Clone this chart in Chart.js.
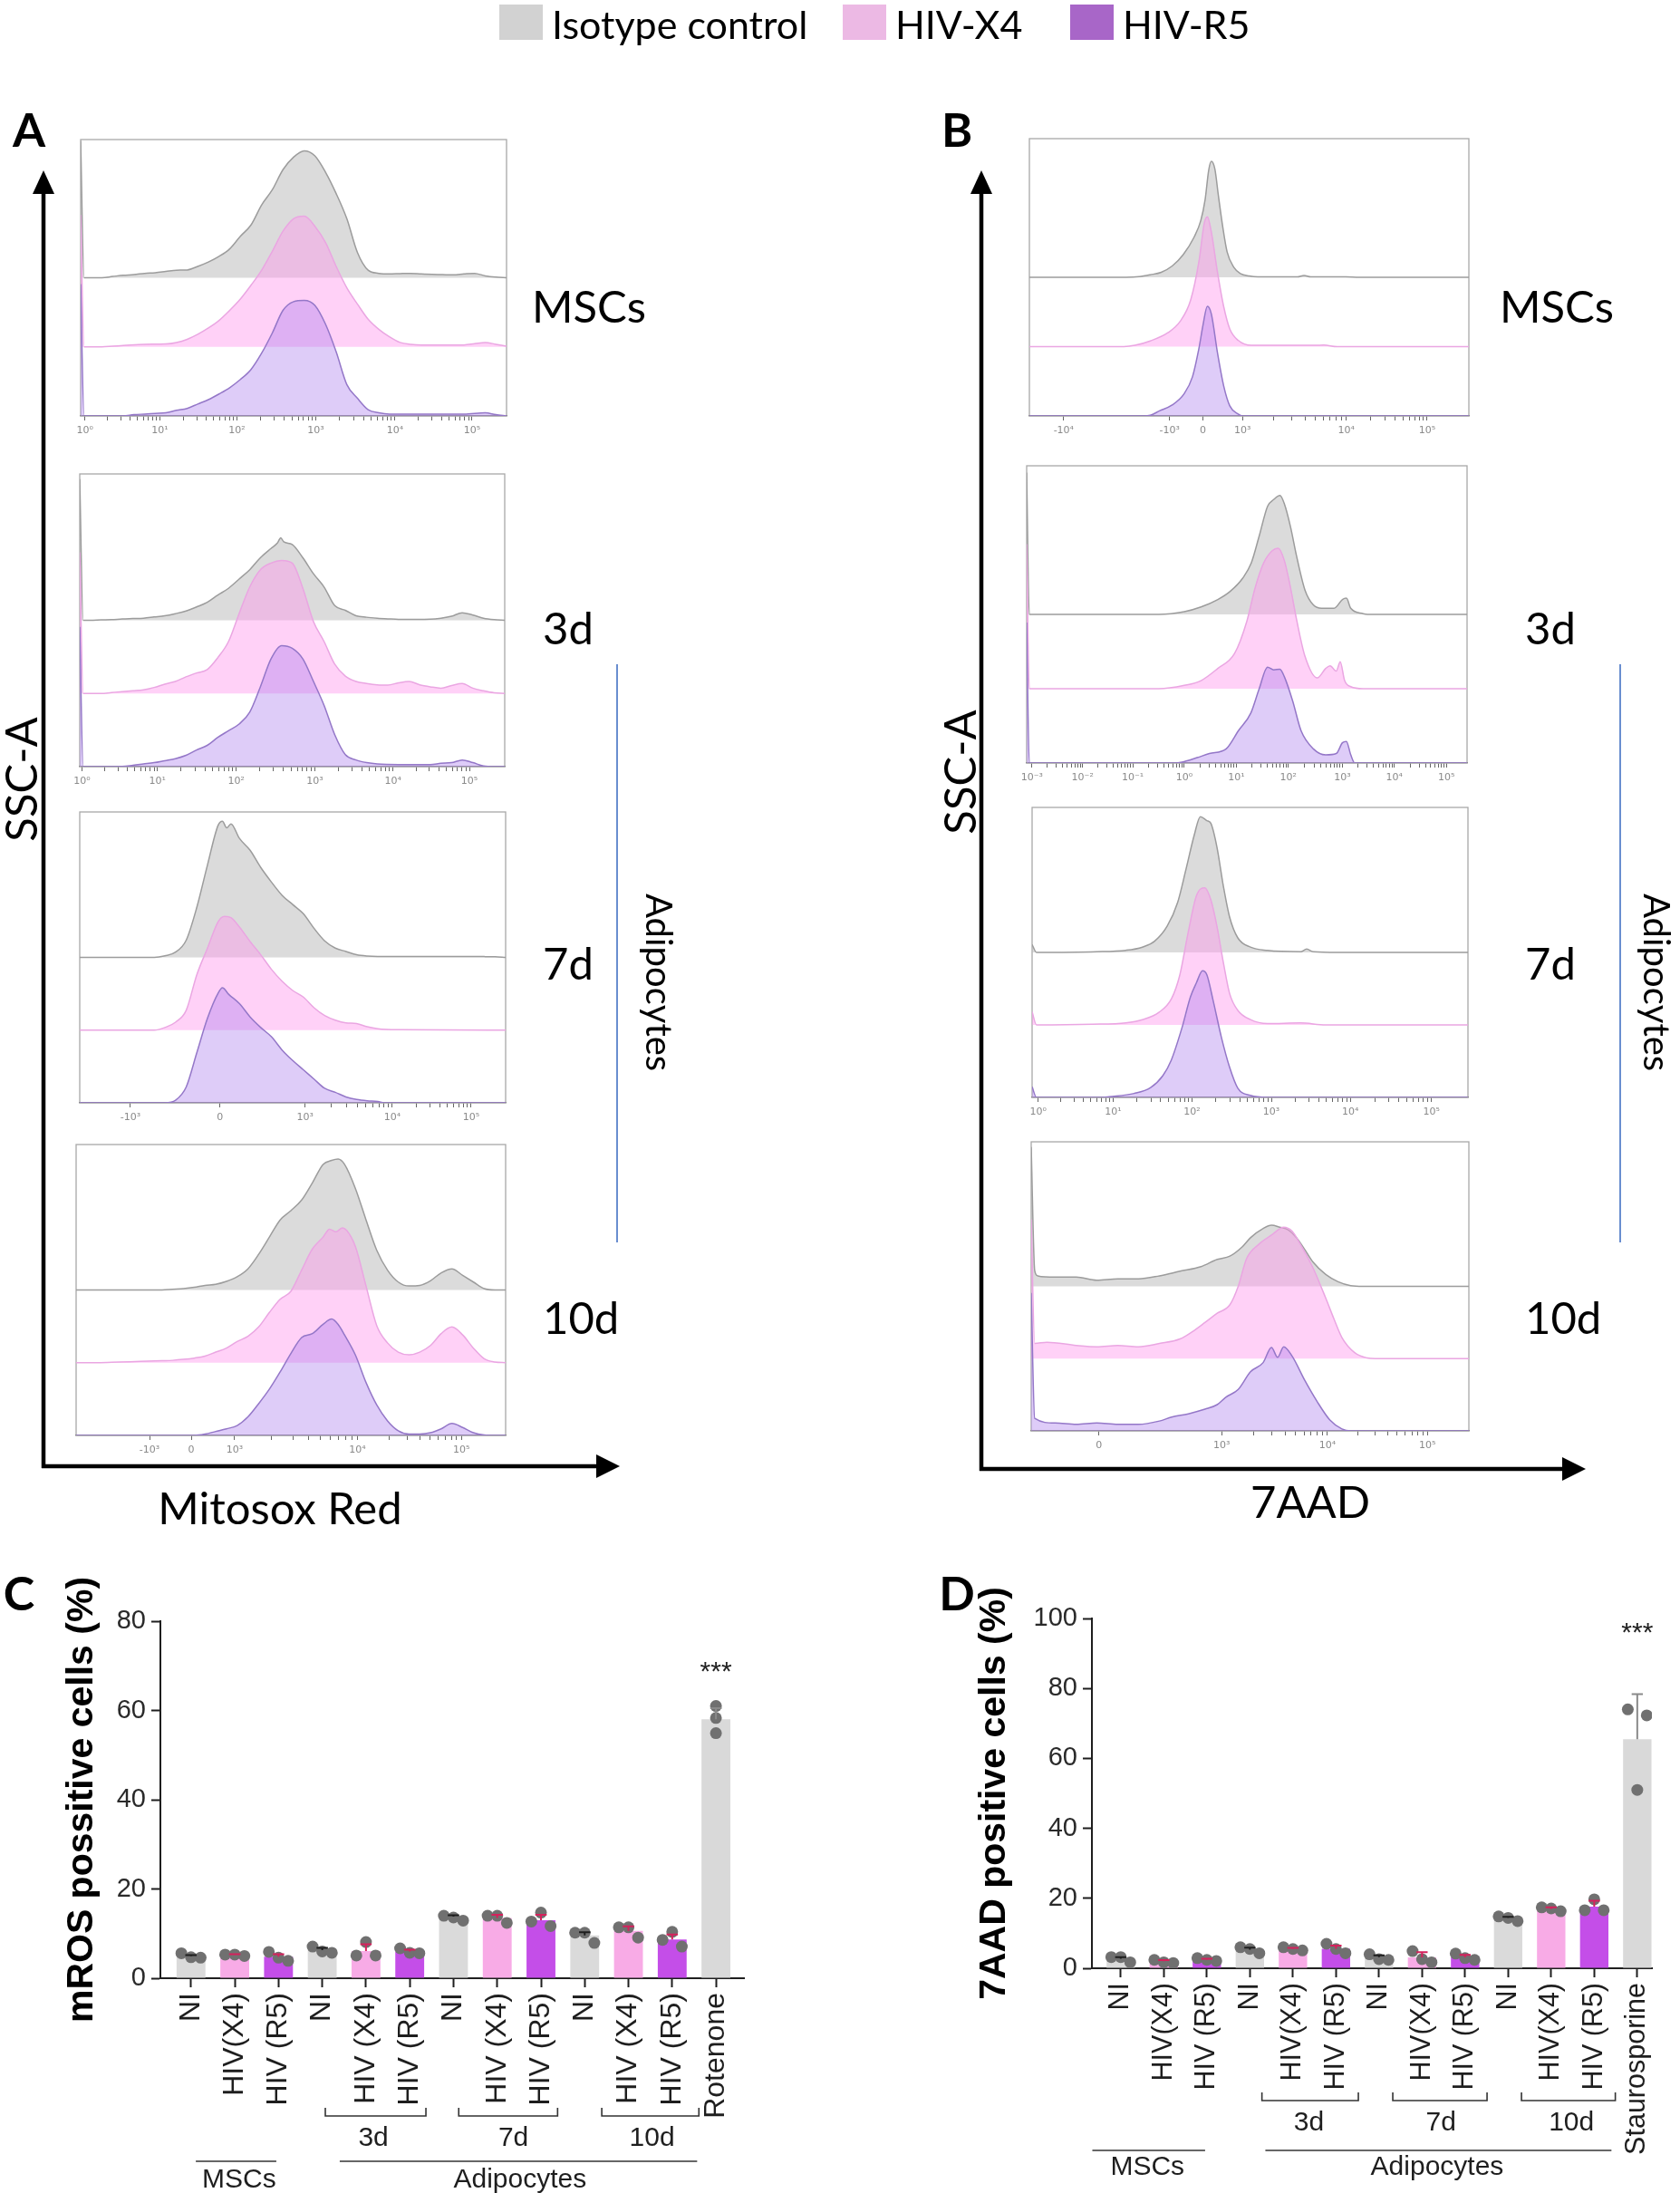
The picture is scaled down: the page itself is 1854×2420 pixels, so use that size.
<!DOCTYPE html>
<html>
<head>
<meta charset="utf-8">
<script src="https://cdn.jsdelivr.net/npm/chart.js@4.4.1/dist/chart.umd.min.js"></script>
<style>
  html, body { margin: 0; padding: 0; background: #fff; }
  #fig { position: relative; width: 1854px; height: 2420px; overflow: hidden; font-family: Lato, "Open Sans", sans-serif; color: #000; }
  #fig canvas { position: absolute; }
  #fig svg { position: absolute; left: 0; top: 0; }
  .txt { position: absolute; white-space: nowrap; line-height: 1; }
</style>
</head>
<body>
<div id="fig"></div>
<script>
// ---------- flow histograms: [channel (% of plot width), events (% of mode)] ----------
// A - Mitosox Red
const mitoMscIso = [[0,109],[0.8,0],[5,0],[7.5,1],[10,2],[12.5,2.5],[15,3.5],[17.5,4],[20,5],[22.5,6],[25,6.2],[27.5,9],[30,12.5],[32.5,17],[35,23],[37.5,33],[40,42],[42.5,58],[45,70],[47.5,86],[50,96],[52.5,101],[55,97],[57.5,84],[60,67],[62.5,47],[65,20],[67.5,6],[70,3.5],[72.5,3],[75,3.3],[77.5,3.5],[80,3],[85,2.5],[87.5,2.3],[90,3],[92.5,3.5],[95,1.5],[97.5,0.5],[100,0]];
const mitoMscX4 = [[0,105],[0.8,0],[5,0],[7.5,0.5],[10,1],[15,2],[20,2.3],[22.5,3.5],[25,6],[27.5,10],[30,15],[32.5,21],[35,29],[37.5,38],[40,49],[42.5,61],[45,76],[47.5,92],[50,102],[52.5,104],[55,96],[57.5,83],[60,64],[62.5,47],[65,34],[67.5,22],[70,14],[72.5,8],[75,3.5],[77.5,2],[80,1.5],[90,1.5],[92.5,2.5],[95,3.5],[97.5,2],[100,0.5]];
const mitoMscR5 = [[0,105],[0.8,0],[10,0],[12.5,1],[15,1.5],[17.5,2],[20,2.5],[22.5,4.5],[25,6],[27.5,9.5],[30,13],[32.5,17.5],[35,22.5],[37.5,29],[40,37],[42.5,50],[45,66],[47.5,84],[50,91],[52.5,92],[55,88],[57.5,73],[60,51],[62.5,25],[65,14],[67.5,5],[70,2.5],[72.5,1.5],[90,1.5],[95,2.5],[97.5,1],[100,0]];
const mito3dIso = [[0,106],[0.8,0],[2.5,0],[5,0.3],[7.5,0.5],[10,1],[12.5,1.3],[15,1.6],[17.5,2.5],[20,3.4],[22.5,5],[25,7],[27.5,10],[30,13.5],[32.5,19],[35,24],[37.5,31],[40,38],[42.5,47],[45,54],[46.5,58],[47.3,62],[48,59],[50,57],[52.5,47],[55,35],[57.5,25],[60,11],[62.5,7.5],[65,3.4],[67.5,2.3],[70,1.6],[72.5,1.1],[75,0.7],[82.5,0.9],[85,1.6],[87.5,3],[90,5.7],[92.5,3.9],[95,1.6],[97.5,0.5],[100,0]];
const mito3dX4 = [[0,106],[0.8,0],[5,0],[7.5,0.7],[10,1.4],[12.5,2],[15,2.7],[17.5,4.5],[20,7],[22.5,9],[25,12.5],[27.5,15.4],[30,18],[32.5,27],[35,39],[37.5,60],[40,80],[42.5,93],[45,98],[47.5,100],[50,98],[52.5,79],[55,54],[57.5,39],[60,22],[62.5,13],[65,9],[67.5,7.5],[70,6.5],[72.5,6.3],[75,8],[77.5,9],[80,6.5],[82.5,5],[85,4],[87.5,6],[90,7.5],[92.5,4],[95,2],[97.5,0.5],[100,0]];
const mito3dR5 = [[0,105],[0.8,0],[10,0.2],[12.5,1],[15,2],[17.5,3],[20,4.5],[22.5,6],[25,8.5],[27.5,12.5],[30,16],[32.5,22],[35,27],[37.5,32],[40,41],[42.5,60],[45,81],[47.5,91],[50,89],[52.5,81],[55,64],[57.5,46],[60,24],[62.5,9],[65,5],[67.5,3],[70,2],[75,1.6],[82.5,1.6],[85,2.5],[87.5,3],[90,5],[92.5,3],[95,0.5],[97.5,0],[100,0]];
const mito7dIso = [[0,0],[17.5,0],[20,1.2],[22.5,4],[25,13],[27.5,38],[30,70],[32.5,100],[33.5,103],[34.5,98],[35.5,101],[37.5,90],[40,81],[42.5,68],[45,57],[47.5,47],[50,40],[52.5,33],[55,22],[57.5,12.5],[60,7],[62.5,4.5],[65,2],[67.5,1],[70,0.7],[95,0.6],[97.5,0.5],[100,0]];
const mito7dX4 = [[0,0],[17.5,0],[20,2],[22.5,6],[25,15],[27.5,42],[30,62],[32.5,82],[34,86],[35.5,85],[37.5,78],[40,67],[42.5,57],[45,46],[47.5,37],[50,30],[52.5,25],[55,17],[57.5,11],[60,7.5],[62.5,5.5],[65,5],[67.5,2.5],[70,1],[75,0.3],[100,0]];
const mito7dR5 = [[0,0],[20,0],[22.5,2],[25,12],[27.5,38],[30,64],[32.5,83],[33.5,87],[35,82],[37.5,75],[40,65],[42.5,57],[45,50],[47.5,40],[50,32],[52.5,25],[55,18],[57.5,11],[60,8],[62.5,4.5],[65,2.5],[67.5,1.5],[70,1],[71.5,0],[100,0]];
const mito10dIso = [[0,0],[20,0],[22.5,0.5],[25,1],[27.5,2],[30,3.5],[32.5,4.3],[35,6.5],[37.5,10],[40,16],[42.5,27],[45,40],[47.5,53],[50,60],[52.5,68],[55,81],[57.5,95],[59.5,98],[61,99],[62.5,95],[65,77],[67.5,53],[70,30],[72.5,15],[75,6],[77.5,3],[80,3.5],[82.5,7],[85,13],[87.5,16],[90,11],[92.5,6],[95,1],[97.5,0],[100,0]];
const mito10dX4 = [[0,0],[5,0],[10,0.5],[15,1],[20,1.5],[22.5,1.8],[25,2.5],[27.5,3.5],[30,5],[32.5,8],[35,11],[37.5,16],[40,20],[42.5,27],[45,38],[47.5,48],[50,54],[52.5,70],[55,86],[57.5,95],[59,101],[60.5,99],[62,102],[63,100],[65,88],[67.5,58],[70,28],[72.5,15],[75,8],[77.5,6],[80,8],[82.5,13],[85,22],[87.5,27],[90,21],[92.5,11],[95,3],[97.5,0.5],[100,0]];
const mito10dR5 = [[0,0],[27.5,0],[30,1],[32.5,3],[35,5],[37.5,7.5],[40,14],[42.5,24],[45,35],[47.5,48],[50,62],[52.5,74],[55,77],[57.5,84],[59.5,88],[61,84],[62.5,76],[65,61],[67.5,40],[70,23],[72.5,11],[75,3.5],[77.5,1],[80,1],[82.5,2],[85,5],[87.5,9],[90,6],[92.5,2],[95,0.3],[97.5,0],[100,0]];

// B - 7AAD
const aadMscIso = [[0,0],[22,0],[25,0.5],[27.5,2],[30,4],[32.5,9],[35,18],[37.5,32],[39,45],[40,62],[40.8,85],[41.4,92],[42.2,86],[43,65],[44,40],[45,20],[46.5,8],[48,3],[50,1],[52,0.3],[61,0.3],[62.5,1.5],[64,0.3],[72,0.3],[75,0],[100,0]];
const aadMscX4 = [[0,0],[21.5,0],[24,1],[27.5,4.5],[31.5,11],[34.3,20],[36.7,37],[38.6,68],[39.8,98],[40.5,103],[41.4,91],[42.8,59],[44.2,32],[45.6,14],[47.5,5],[50.5,1],[65,1],[67,1.2],[70,0],[100,0]];
const aadMscR5 = [[0,0],[26,0],[27.5,0.5],[29.6,4],[32.4,8.5],[35.2,17.5],[37.1,31],[38.6,54],[39.5,72],[40.5,87],[41.4,81],[42.8,50],[44.2,24],[45.6,8],[47.5,1.5],[48.5,0],[100,0]];
const aad3dIso = [[0,105],[0.6,0],[30,0],[35.8,2],[39.6,5.5],[43.4,11],[46.2,17],[49.1,27],[51,38],[52.8,58],[54.7,80],[56.1,85],[57.5,88],[58.5,82],[59.9,65],[61.3,43],[63.2,18],[65.1,7],[67,4.5],[69.8,4.5],[71.7,11],[72.6,12],[73.6,4.5],[76.4,0.5],[77.4,0],[100,0]];
const aad3dX4 = [[0,107],[0.6,0],[30,0],[35.8,2.5],[39.6,6],[43.4,15],[47.2,26],[50,50],[51.9,75],[53.8,93],[55.7,102],[57.1,104],[58.5,95],[59.9,75],[61.3,51],[63.2,24],[66,8],[67.9,15],[68.9,17],[70.3,13],[71.2,20],[72.2,6],[73.6,1.5],[76.4,0],[100,0]];
const aad3dR5 = [[0,104],[0.6,0],[34,0],[35,0.5],[38.7,4],[41.5,7],[45.3,10.5],[48.1,24],[50.9,37],[52.8,55],[54.7,71],[56.1,69],[57.5,69.5],[58.5,64],[60.4,46],[62.3,24],[65.1,10.5],[67.9,6],[70.3,7],[71.7,15],[72.6,16],[73.6,6],[74.5,0],[100,0]];
const aad7dIso = [[0,6],[1,0],[14.8,0.5],[21.5,1.6],[25.3,4],[28.1,8.5],[31,20],[33.4,38],[35.3,63],[37.2,89],[38.6,103],[40.1,100],[41,98],[42.4,80],[43.9,50],[45.3,27],[47.2,11],[50.1,4],[54,1.5],[61.6,0.5],[63,2.5],[64.5,0.5],[70,0],[100,0]];
const aad7dX4 = [[0,10],[1,0],[13.8,0.5],[21.5,1.6],[25.3,4],[29.1,9.5],[32,20],[33.9,38],[35.8,70],[37.7,98],[39.6,104],[41,95],[42.4,75],[43.9,47],[45.3,24],[47.2,11],[50.1,4],[54,1],[61.6,1.5],[67.3,0],[100,0]];
const aad7dR5 = [[0,8],[1,0],[16.2,0],[17.7,0.5],[23.4,3],[27.2,7.5],[30,16.5],[31.9,28],[34.4,53],[36.3,76],[37.7,87],[39.1,96],[40.1,93],[41.5,74],[43.4,46],[45.3,23],[47.2,7],[50.1,1.5],[54,0],[100,0]];
const aad10dIso = [[0,106],[0.8,12],[1.5,8],[5.5,7],[10.3,7],[15,4.6],[19.8,5.7],[24.5,5.7],[29.3,8],[34,11.5],[38.8,15],[42.5,20.5],[45.4,23],[48.2,30],[50.1,37],[53,44],[54.9,46.5],[56.8,45],[58.7,43],[60.6,37],[62.5,28],[64.4,18.4],[67.3,9],[70.1,3.5],[73,0.5],[75.8,0],[100,0]];
const aad10dX4 = [[0,106],[0.8,11.5],[3.6,12.5],[10.3,10],[15,9],[19.8,10],[24.5,9],[29.3,11.5],[34,15],[36.8,20.5],[39.7,27.5],[42.5,34.5],[45.4,41],[47.3,55],[49.2,76],[52,87],[54.9,94],[57.7,100],[59.6,97],[61.5,87],[64.4,69],[67.3,46],[69.2,30],[71,16],[73.9,4.6],[76.8,0.5],[78.6,0],[100,0]];
const aad10dR5 = [[0,105],[0.8,9.5],[5.5,6],[10.3,5],[15,6],[19.8,5],[24.5,5],[29.3,7.5],[32.1,10.5],[35.9,13],[39.7,16.5],[42.5,20],[44.4,25.5],[47.3,31.5],[50.1,45],[53,52],[54.9,63.5],[56.3,56],[57.7,64],[59.6,57],[62.5,38.5],[65.3,22.5],[68.2,8.5],[71,1.5],[73,0],[100,0]];

// axis ticks of each histogram (channel position, label)
const logTickText = ["10⁰", "10¹", "10²", "10³", "10⁴", "10⁵"];
const biexTickText = ["-10³", "0", "10³", "10⁴", "10⁵"];
const mitoMscTicks = [1, 18.6, 36.7, 55.2, 73.8, 91.9];
const mito3dTicks = [0.5, 18.3, 36.8, 55.3, 73.7, 91.7];
const mito7dTicks = [11.9, 32.9, 52.9, 73.4, 91.9];
const mito10dTicks = [17.1, 26.8, 36.9, 65.5, 89.7];
const aadMscTicks = [7.8, 31.9, 39.5, 48.5, 72.1, 90.5];
const aadMscTickText = ["-10⁴", "-10³", "0", "10³", "10⁴", "10⁵"];
const aad3dTicks = [1.2, 12.7, 24.1, 35.8, 47.6, 59.4, 71.7, 83.5, 95.3];
const aad3dTickText = ["10⁻³", "10⁻²", "10⁻¹", "10⁰", "10¹", "10²", "10³", "10⁴", "10⁵"];
const aad7dTicks = [1.4, 18.6, 36.7, 54.9, 73, 91.6];
const aad10dTicks = [15.5, 43.5, 67.7, 90.5];
const aad10dTickText = ["0", "10³", "10⁴", "10⁵"];

// ---------- bar charts ----------
const groupKind = ["NI", "X4", "R5", "NI", "X4", "R5", "NI", "X4", "R5", "NI", "X4", "R5", "ctrl"];
const mrosLabels = ["NI", "HIV(X4)", "HIV (R5)", "NI", "HIV (X4)", "HIV (R5)", "NI", "HIV (X4)", "HIV (R5)", "NI", "HIV (X4)", "HIV (R5)", "Rotenone"];
const mrosMean = [4.9, 5.2, 4.8, 6.3, 6.1, 6.0, 13.8, 13.5, 13.0, 9.6, 10.6, 8.7, 58.0];
const mrosSd = [0.3, 0.2, 0.6, 0.5, 1.5, 0.4, 0.3, 0.7, 1.2, 0.7, 1.0, 1.1, 2.5];
const mrosReps = [[5.6, 4.7, 4.6], [5.3, 5.3, 5.0], [5.9, 4.6, 3.9], [7.1, 6.0, 5.7], [5.1, 8.1, 5.1], [6.7, 5.7, 5.6], [14.0, 13.6, 12.9], [14.0, 14.0, 12.4], [12.7, 14.7, 11.7], [10.2, 10.2, 7.9], [11.4, 11.4, 9.1], [8.6, 10.4, 7.1], [61.0, 58.3, 54.9]];
const aadLabels = ["NI", "HIV(X4)", "HIV (R5)", "NI", "HIV(X4)", "HIV (R5)", "NI", "HIV(X4)", "HIV (R5)", "NI", "HIV(X4)", "HIV (R5)", "Staurosporine"];
const aadMean = [2.7, 2.0, 2.4, 5.3, 5.5, 5.6, 3.2, 3.1, 3.2, 14.4, 17.0, 17.6, 65.5];
const aadSd = [0.5, 0.3, 0.3, 0.6, 0.3, 0.9, 0.5, 1.5, 0.6, 0.3, 0.4, 1.7, 12.9];
const aadReps = [[3.2, 3.2, 1.7], [2.4, 1.7, 1.5], [2.9, 2.4, 2.1], [6.0, 5.5, 4.3], [6.0, 5.5, 5.1], [7.0, 5.5, 4.3], [4.0, 2.6, 2.4], [4.9, 2.6, 1.7], [4.2, 2.9, 2.4], [14.8, 14.4, 13.5], [17.4, 17.1, 16.3], [16.6, 19.7, 16.6], [74.0, 51.0, 72.3]];

const fig = document.getElementById("fig");
Chart.defaults.animation = false;
Chart.defaults.events = [];

// html text helper
function addText(txt, x, y, style, transform) {
  const el = document.createElement("div");
  el.className = "txt";
  el.textContent = txt;
  Object.assign(el.style, style || {});
  el.style.left = x + "px";
  el.style.top = y + "px";
  el.style.transform = transform || "translate(-50%,-50%)";
  fig.appendChild(el);
  return el;
}

function addCanvas(x, y, w, h) {
  const cv = document.createElement("canvas");
  cv.width = w;
  cv.height = h;
  cv.style.left = x + "px";
  cv.style.top = y + "px";
  fig.appendChild(cv);
  return cv;
}

// ---------- histograms ----------
const histStyle = [
  { line: "#9477c8", fill: "rgba(172,128,238,0.40)" }, // HIV-R5, drawn on top
  { line: "#eaa6e2", fill: "rgba(255,150,236,0.44)" }, // HIV-X4
  { line: "#9c9c9c", fill: "rgba(186,186,186,0.52)" }, // isotype
];
// each layer sits a quarter of the frame higher than the one below it
const layerAxes = {
  y0: { type: "linear", axis: "y", display: false, min: 0, max: 220 },
  y1: { type: "linear", axis: "y", display: false, min: -55, max: 165 },
  y2: { type: "linear", axis: "y", display: false, min: -110, max: 110 },
};

const frame = {
  id: "frame",
  beforeDatasetsDraw(chart) {
    const { ctx, chartArea: a } = chart;
    ctx.save();
    ctx.strokeStyle = "#a8a8a8";
    ctx.lineWidth = 1.3;
    ctx.strokeRect(a.left, a.top, a.right - a.left, a.bottom - a.top);
    ctx.restore();
  },
};

function buildTicks(pos, text) {
  const ticks = [];
  pos.forEach((p, i) => {
    ticks.push({ value: p, txt: text[i], major: true });
    const next = pos[i + 1];
    // log minor ticks inside positive decades
    if (next !== undefined && text[i].startsWith("10") && text[i + 1].startsWith("10")) {
      for (let k = 2; k < 10; k++) ticks.push({ value: p + Math.log10(k) * (next - p), txt: "" });
    }
  });
  return ticks.sort((a, b) => a.value - b.value);
}

function histogram(box, curves, tickPos, tickText) {
  const [bx, by, bw, bh] = box;
  const pad = 16, axisH = 34;
  const cv = addCanvas(bx - pad, by - 6, bw + pad * 2, bh + 6 + axisH);
  new Chart(cv, {
    type: "line",
    data: {
      datasets: curves.map((c, k) => ({
        data: c.map(([x, y]) => ({ x, y })),
        yAxisID: "y" + k,
        borderColor: histStyle[k].line,
        backgroundColor: histStyle[k].fill,
        borderWidth: 1.5,
        fill: "origin",
        pointRadius: 0,
        cubicInterpolationMode: "monotone",
      })),
    },
    options: {
      responsive: false,
      layout: { padding: { left: pad, right: pad, top: 6, bottom: 0 } },
      plugins: { legend: { display: false }, tooltip: { enabled: false } },
      scales: Object.assign({
        x: {
          type: "linear", min: 0, max: 100,
          afterFit: (s) => { s.height = axisH; },
          afterBuildTicks: (s) => { s.ticks = buildTicks(tickPos, tickText); },
          border: { display: true, color: "#555", width: 1.3 },
          grid: { drawOnChartArea: false, tickLength: 5, tickColor: "#666", tickWidth: 1 },
          ticks: {
            autoSkip: false, maxRotation: 0, padding: 5, color: "#8a8a8a",
            font: { family: "DejaVu Sans", size: 11 },
            callback: (v, i, ts) => ts[i].txt,
          },
        },
      }, layerAxes),
    },
    plugins: [frame],
  });
}

histogram([89, 154, 470, 305], [mitoMscR5, mitoMscX4, mitoMscIso], mitoMscTicks, logTickText);
histogram([88, 523, 469, 323], [mito3dR5, mito3dX4, mito3dIso], mito3dTicks, logTickText);
histogram([88, 896, 470, 321], [mito7dR5, mito7dX4, mito7dIso], mito7dTicks, biexTickText);
histogram([84, 1263, 474, 321], [mito10dR5, mito10dX4, mito10dIso], mito10dTicks, biexTickText);
histogram([1136, 153, 485, 306], [aadMscR5, aadMscX4, aadMscIso], aadMscTicks, aadMscTickText);
histogram([1133, 514, 486, 328], [aad3dR5, aad3dX4, aad3dIso], aad3dTicks, aad3dTickText);
histogram([1139, 891, 481, 320], [aad7dR5, aad7dX4, aad7dIso], aad7dTicks, logTickText);
histogram([1138, 1260, 483, 319], [aad10dR5, aad10dX4, aad10dIso], aad10dTicks, aad10dTickText);

// ---------- bar charts ----------
const barColor = { NI: "#dadada", X4: "#f8abe6", R5: "#c44ee8", ctrl: "#d9d9d9" };
const errColor = { NI: "#1e1e1e", X4: "#d5215c", R5: "#d5215c", ctrl: "#8a8a8a" };

// spread replicate dots sideways only when they would overlap
function dotPoints(reps, overlap) {
  const pts = [];
  reps.forEach((vals, i) => {
    let crowded = false;
    vals.forEach((a, j) => vals.forEach((b, k) => { if (j < k && Math.abs(a - b) < overlap) crowded = true; }));
    vals.forEach((v, j) => pts.push({ x: i + (crowded ? (j - 1) * 0.22 : 0), y: v }));
  });
  return pts;
}

const errorBars = {
  id: "errorBars",
  afterDatasetsDraw(chart, args, o) {
    const { ctx } = chart;
    const x = chart.scales.x, y = chart.scales.y;
    const cap = (x.getPixelForValue(1) - x.getPixelForValue(0)) * 0.13;
    ctx.save();
    ctx.lineWidth = 2;
    chart.getDatasetMeta(1).data.forEach((bar, i) => {
      const top = y.getPixelForValue(o.mean[i] + o.sd[i]);
      ctx.strokeStyle = errColor[groupKind[i]];
      ctx.beginPath();
      ctx.moveTo(bar.x, bar.y);
      ctx.lineTo(bar.x, top);
      ctx.moveTo(bar.x - cap, top);
      ctx.lineTo(bar.x + cap, top);
      ctx.stroke();
    });
    // significance stars over the positive control
    ctx.fillStyle = "#222";
    ctx.font = "30px 'Liberation Sans', Arial";
    ctx.textAlign = "center";
    ctx.textBaseline = "middle";
    ctx.fillText("***", x.getPixelForValue(12), y.getPixelForValue(o.starAt));
    ctx.restore();
  },
};

// brackets and group names under the category labels
const groupNotes = {
  id: "groupNotes",
  afterDraw(chart, args, o) {
    const { ctx } = chart;
    const x = chart.scales.x;
    ctx.save();
    ctx.strokeStyle = "#333";
    ctx.lineWidth = 1.6;
    ctx.fillStyle = "#1e1e1e";
    ctx.font = "30px 'Liberation Sans', Arial";
    ctx.textAlign = "center";
    ctx.textBaseline = "middle";
    o.brackets.forEach((b) => {
      const x0 = x.getPixelForValue(b.from), x1 = x.getPixelForValue(b.to);
      ctx.beginPath();
      ctx.moveTo(x0, o.bracketY - 9);
      ctx.lineTo(x0, o.bracketY);
      ctx.lineTo(x1, o.bracketY);
      ctx.lineTo(x1, o.bracketY - 9);
      ctx.stroke();
      ctx.fillText(b.text, x.getPixelForValue(b.at), o.bracketTextY);
    });
    o.groups.forEach((g) => {
      ctx.beginPath();
      ctx.moveTo(x.getPixelForValue(g.from), o.lineY);
      ctx.lineTo(x.getPixelForValue(g.to), o.lineY);
      ctx.stroke();
      ctx.fillText(g.text, x.getPixelForValue(g.at), o.groupTextY);
    });
    ctx.restore();
  },
};

function barPanel(cv, L, labels, mean, sd, reps, cfg) {
  new Chart(cv, {
    type: "bar",
    data: {
      datasets: [
        {
          type: "scatter",
          data: dotPoints(reps, cfg.overlap),
          pointRadius: 6.5,
          pointBackgroundColor: "#707070",
          pointBorderWidth: 0,
        },
        {
          data: mean.map((v, i) => ({ x: i, y: v })),
          backgroundColor: groupKind.map((k) => barColor[k]),
          borderWidth: 0,
          barPercentage: 0.66,
          categoryPercentage: 1,
        },
      ],
    },
    options: {
      responsive: false,
      layout: { padding: { left: 0, top: L.top, right: L.right, bottom: 0 } },
      plugins: {
        legend: { display: false }, tooltip: { enabled: false },
        errorBars: { mean, sd, starAt: cfg.starAt },
        groupNotes: cfg.notes,
      },
      scales: {
        x: {
          type: "linear", min: cfg.xMin, max: cfg.xMax, offset: false,
          afterFit: (s) => { s.height = L.xHeight; },
          afterBuildTicks: (s) => { s.ticks = labels.map((_, i) => ({ value: i })); },
          border: { display: true, color: "#1e1e1e", width: 2 },
          grid: { offset: false, drawOnChartArea: false, tickLength: 10, tickColor: "#1e1e1e", tickWidth: 2 },
          ticks: {
            autoSkip: false, minRotation: 90, maxRotation: 90, padding: 6, color: "#1e1e1e",
            font: { family: "'Liberation Sans', Arial", size: cfg.labelSize },
            callback: (v) => labels[v],
          },
        },
        y: {
          min: 0, max: cfg.yMax,
          afterFit: (s) => { s.width = L.yWidth; },
          border: { display: true, color: "#1e1e1e", width: 2 },
          grid: { drawOnChartArea: false, tickLength: 10, tickColor: "#1e1e1e", tickWidth: 2 },
          ticks: { stepSize: 20, padding: 6, color: "#2a2a2a", font: { family: "'Liberation Sans', Arial", size: 29 } },
          title: {
            display: true, text: cfg.title, color: "#000",
            font: { family: "'Liberation Sans', Arial", size: 41, weight: "bold" },
            padding: { top: cfg.titlePad, bottom: 0 },
          },
        },
      },
    },
    plugins: [errorBars, groupNotes],
  });
}

barPanel(addCanvas(0, 1730, 860, 690), { top: 59, right: 39, yWidth: 177, xHeight: 237 },
  mrosLabels, mrosMean, mrosSd, mrosReps, {
    xMin: -0.7, xMax: 12.64, yMax: 80, overlap: 2.6, starAt: 68.4, labelSize: 32,
    title: "mROS possitive cells (%)", titlePad: 66,
    notes: {
      bracketY: 605, bracketTextY: 630, lineY: 655, groupTextY: 676,
      brackets: [{ from: 3.07, to: 5.37, at: 4.17, text: "3d" }, { from: 6.12, to: 8.38, at: 7.37, text: "7d" }, { from: 9.39, to: 11.61, at: 10.54, text: "10d" }],
      groups: [{ from: 0.11, to: 1.95, at: 1.1, text: "MSCs" }, { from: 3.4, to: 11.57, at: 7.52, text: "Adipocytes" }],
    },
  });

barPanel(addCanvas(926, 1730, 928, 690), { top: 56, right: 31, yWidth: 279, xHeight: 248 },
  aadLabels, aadMean, aadSd, aadReps, {
    xMin: -0.67, xMax: 12.34, yMax: 100, overlap: 3.3, starAt: 95.7, labelSize: 30.5,
    title: "7AAD positive cells (%)", titlePad: 147,
    notes: {
      bracketY: 588, bracketTextY: 613, lineY: 643, groupTextY: 662,
      brackets: [{ from: 3.28, to: 5.52, at: 4.37, text: "3d" }, { from: 6.32, to: 8.51, at: 7.44, text: "7d" }, { from: 9.31, to: 11.49, at: 10.47, text: "10d" }],
      groups: [{ from: -0.66, to: 1.96, at: 0.62, text: "MSCs" }, { from: 3.36, to: 11.4, at: 7.35, text: "Adipocytes" }],
    },
  });

// ---------- arrows and guide lines ----------
const svgNS = "http://www.w3.org/2000/svg";
const svg = document.createElementNS(svgNS, "svg");
svg.setAttribute("width", 1854);
svg.setAttribute("height", 2420);
fig.appendChild(svg);
function svgEl(tag, attrs) {
  const el = document.createElementNS(svgNS, tag);
  for (const k in attrs) el.setAttribute(k, attrs[k]);
  svg.appendChild(el);
}
[[48, 684, 1618], [1083, 1750, 1621]].forEach(([ax, hx, baseY]) => {
  svgEl("line", { x1: ax, y1: baseY + 2, x2: ax, y2: 212, stroke: "#000", "stroke-width": 4.5 });
  svgEl("polygon", { points: `${ax - 12},214 ${ax + 12},214 ${ax},188`, fill: "#000" });
  svgEl("line", { x1: ax - 2, y1: baseY, x2: hx - 24, y2: baseY, stroke: "#000", "stroke-width": 4.5 });
  svgEl("polygon", { points: `${hx - 26},${baseY - 13} ${hx - 26},${baseY + 13} ${hx},${baseY}`, fill: "#000" });
});
svgEl("line", { x1: 681, y1: 733, x2: 681, y2: 1371, stroke: "#4472c4", "stroke-width": 1.6 });
svgEl("line", { x1: 1788, y1: 733, x2: 1788, y2: 1371, stroke: "#4472c4", "stroke-width": 1.6 });

// ---------- texts ----------
const big = { fontSize: "49px" };
const letter = { fontSize: "52px", fontWeight: "bold" };
addText("A", 32, 142, letter);
addText("B", 1056, 142, letter);
addText("C", 21, 1757, letter);
addText("D", 1056, 1757, letter);

// legend
[["Isotype control", "#d2d2d2", 551], ["HIV-X4", "#ecb9e4", 930], ["HIV-R5", "#a866c8", 1181]].forEach(([t, c, x]) => {
  const sw = document.createElement("div");
  Object.assign(sw.style, { position: "absolute", left: x + "px", top: "5px", width: "48px", height: "39px", background: c });
  fig.appendChild(sw);
  addText(t, x + 58, 26, { fontSize: "43px" }, "translate(0,-50%)");
});

const rowNames = [["MSCs", 337], ["3d", 692], ["7d", 1062], ["10d", 1453]];
rowNames.forEach(([t, y], i) => {
  addText(t, i === 0 ? 587 : 599, y, big, "translate(0,-50%)");
  addText(t, i === 0 ? 1655 : 1683, y, big, "translate(0,-50%)");
});
addText("Adipocytes", 728, 1084, { fontSize: "40px" }, "translate(-50%,-50%) rotate(90deg)");
addText("Adipocytes", 1829, 1084, { fontSize: "40px" }, "translate(-50%,-50%) rotate(90deg)");
addText("SSC-A", 22, 860, big, "translate(-50%,-50%) rotate(-90deg)");
addText("SSC-A", 1058, 852, big, "translate(-50%,-50%) rotate(-90deg)");
addText("Mitosox Red", 309, 1663, big);
addText("7AAD", 1446, 1656, big);
</script>
</body>
</html>
